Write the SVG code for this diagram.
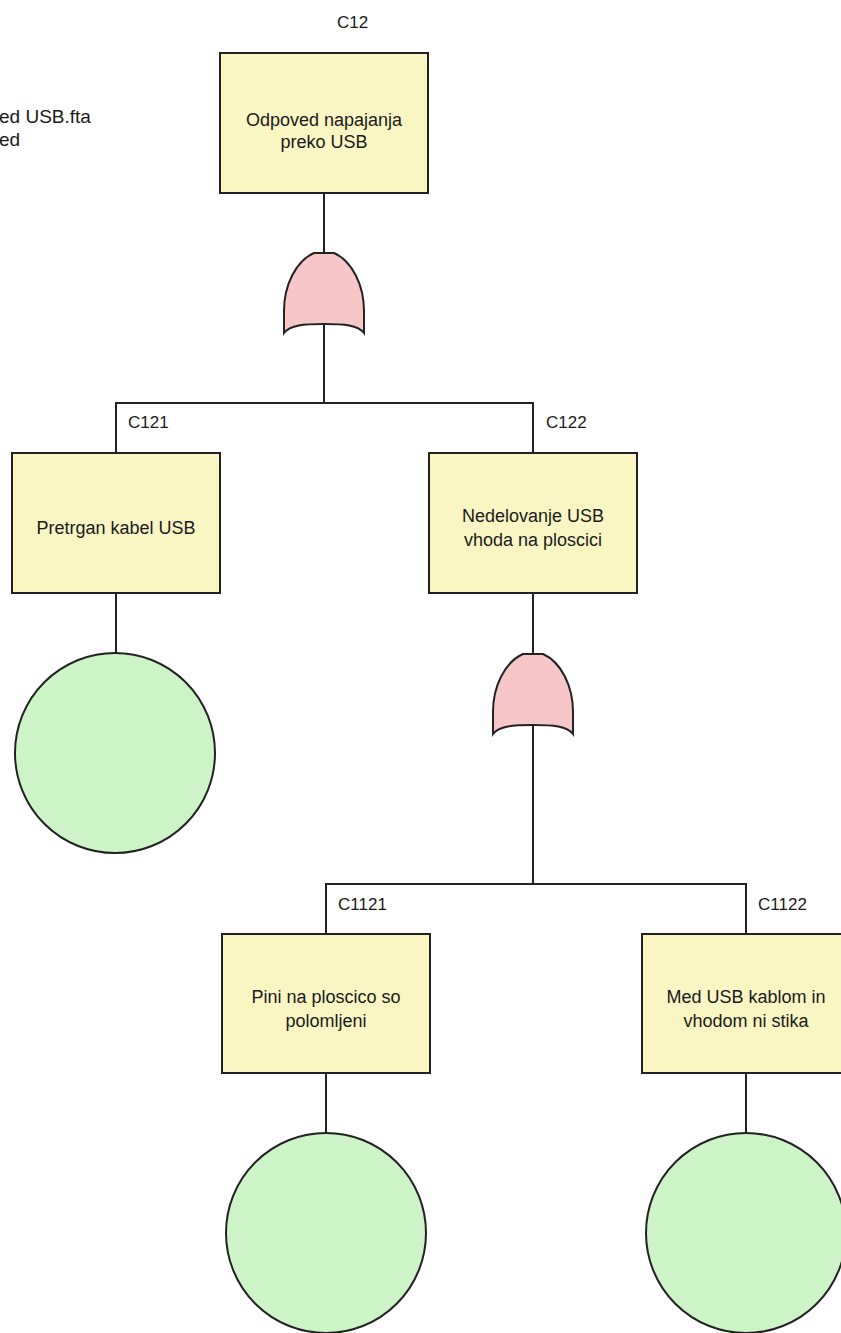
<svg xmlns="http://www.w3.org/2000/svg" width="841" height="1333" viewBox="0 0 841 1333">
  <style>
    .event { fill: #f9f6c4; stroke: #222; stroke-width: 2; }
    .basic { fill: #cdf4c6; stroke: #222; stroke-width: 2; }
    .gate { fill: #f7c6c6; stroke: #222; stroke-width: 2; }
    .wire { fill: none; stroke: #222; stroke-width: 2; }
    .txt { font-family: "Liberation Sans", Arial, sans-serif; font-size: 18px; fill: #1a1a1a; text-anchor: middle; }
    .tag { font-family: "Liberation Sans", Arial, sans-serif; font-size: 17px; fill: #1a1a1a; }
    .hdr { font-family: "Liberation Sans", Arial, sans-serif; font-size: 19px; fill: #1a1a1a; }
  </style>
  <defs>
    <!-- OR gate outline, origin at top centre -->
    <path id="orGate" d="M -10,0 L 10,0 C 28,8 40,32 40,58 L 40,80 C 34,72 20,71 0,71 C -20,71 -34,72 -40,80 L -40,58 C -40,32 -28,8 -10,0 Z"/>
  </defs>

  <rect width="841" height="1333" fill="#ffffff"/>

  <!-- file header, clipped at the left edge -->
  <g id="header">
    <text class="hdr" x="-1" y="123">ed USB.fta</text>
    <text class="hdr" x="-1" y="146">ed</text>
  </g>

  <!-- connectors -->
  <g id="connectors">
    <path class="wire" d="M324,193 V403"/>
    <path class="wire" d="M116,453 V403 H533 V453"/>
    <path class="wire" d="M116,593 V653"/>
    <path class="wire" d="M533,593 V884"/>
    <path class="wire" d="M326,934 V884 H746 V934"/>
    <path class="wire" d="M326,1073 V1133"/>
    <path class="wire" d="M746,1073 V1133"/>
  </g>

  <!-- top event -->
  <g id="C12">
    <text class="tag" x="337" y="28">C12</text>
    <rect class="event" x="220" y="53" width="208" height="140"/>
    <text class="txt" x="324" y="126">Odpoved napajanja</text>
    <text class="txt" x="324" y="148">preko USB</text>
  </g>

  <g id="gate-C12">
    <use href="#orGate" class="gate" transform="translate(324,253)"/>
  </g>

  <g id="C121">
    <text class="tag" x="128" y="428">C121</text>
    <rect class="event" x="12" y="453" width="208" height="140"/>
    <text class="txt" x="116" y="534">Pretrgan kabel USB</text>
  </g>

  <g id="C121-basic">
    <circle class="basic" cx="115" cy="753" r="100"/>
  </g>

  <g id="C122">
    <text class="tag" x="546" y="428">C122</text>
    <rect class="event" x="429" y="453" width="208" height="140"/>
    <text class="txt" x="533" y="522">Nedelovanje USB</text>
    <text class="txt" x="533" y="546">vhoda na ploscici</text>
  </g>

  <g id="gate-C122">
    <use href="#orGate" class="gate" transform="translate(533,654)"/>
  </g>

  <g id="C1121">
    <text class="tag" x="338" y="910">C1121</text>
    <rect class="event" x="222" y="934" width="208" height="139"/>
    <text class="txt" x="326" y="1003">Pini na ploscico so</text>
    <text class="txt" x="326" y="1027">polomljeni</text>
  </g>

  <g id="C1121-basic">
    <circle class="basic" cx="326" cy="1233" r="100"/>
  </g>

  <g id="C1122">
    <text class="tag" x="758" y="910">C1122</text>
    <rect class="event" x="642" y="934" width="208" height="139"/>
    <text class="txt" x="746" y="1003">Med USB kablom in</text>
    <text class="txt" x="746" y="1027">vhodom ni stika</text>
  </g>

  <g id="C1122-basic">
    <circle class="basic" cx="746" cy="1233" r="100"/>
  </g>
</svg>
